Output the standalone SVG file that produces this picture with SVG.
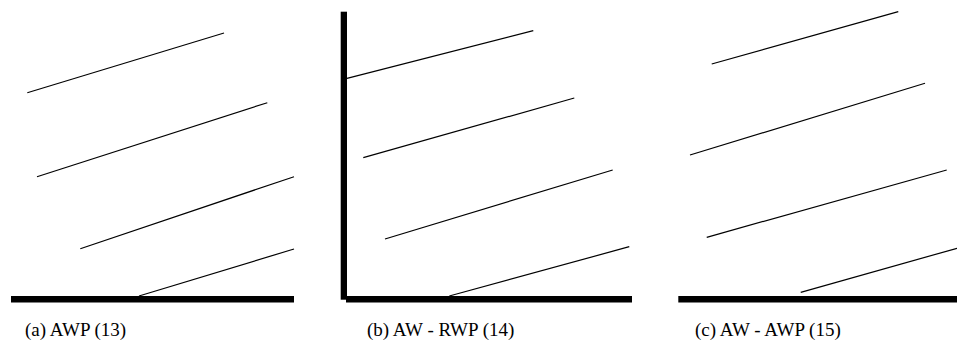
<svg xmlns="http://www.w3.org/2000/svg" width="957" height="343" viewBox="0 0 957 343">
<style>
.wall{fill:#000}
.ray{stroke:#000;stroke-width:1.2;fill:none}
.cap{font-family:"Liberation Serif","Times New Roman",serif;font-size:19px;fill:#000}
</style>
<rect width="957" height="343" fill="#fff"/>
<g id="panel-a">
<rect class="wall" x="11" y="296" width="283" height="6.5"/>
<line class="ray" x1="27.3" y1="92.7" x2="224" y2="33"/>
<line class="ray" x1="37" y1="176.7" x2="267.3" y2="102.7"/>
<line class="ray" x1="80.3" y1="248.7" x2="294" y2="176.7"/>
<line class="ray" x1="139" y1="296" x2="294" y2="249"/>
<text class="cap" x="25" y="336">(a) AWP (13)</text>
</g>
<g id="panel-b">
<rect class="wall" x="340.7" y="11.7" width="6.3" height="288"/>
<rect class="wall" x="346" y="296" width="286" height="6.5"/>
<line class="ray" x1="347" y1="78.3" x2="533.3" y2="30.7"/>
<line class="ray" x1="363.3" y1="157.7" x2="574.3" y2="98"/>
<line class="ray" x1="385" y1="239" x2="612.7" y2="170"/>
<line class="ray" x1="449.3" y1="296" x2="629.3" y2="246.7"/>
<text class="cap" x="367" y="336">(b) AW - RWP (14)</text>
</g>
<g id="panel-c">
<rect class="wall" x="678.3" y="296" width="280" height="6.5"/>
<line class="ray" x1="711.7" y1="64" x2="898.3" y2="11.7"/>
<line class="ray" x1="690" y1="155" x2="925" y2="83.3"/>
<line class="ray" x1="706.7" y1="237.3" x2="946.7" y2="170"/>
<line class="ray" x1="800.7" y1="292.3" x2="957" y2="248.3"/>
<text class="cap" x="695" y="336">(c) AW - AWP (15)</text>
</g>
</svg>
